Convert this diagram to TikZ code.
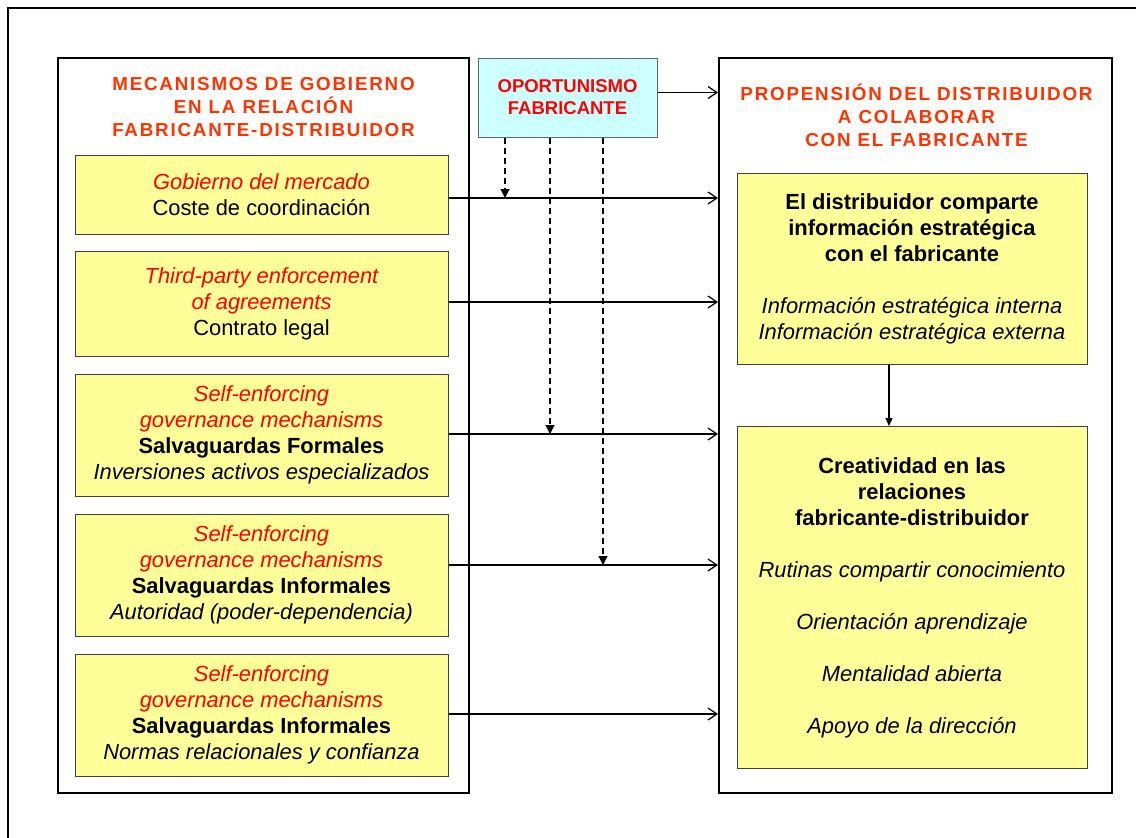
\documentclass[tikz,border=0pt]{standalone}
\usepackage{fontspec}
\setmainfont{Liberation Sans}
\newfontfamily\headfont[LetterSpace=9.5]{Liberation Sans}
\usetikzlibrary{arrows.meta,positioning}
\definecolor{boxyellow}{RGB}{255,255,153}
\definecolor{boxcyan}{RGB}{204,255,255}
\definecolor{headred}{RGB}{255,51,0}

\begin{document}
\begin{tikzpicture}[x=1pt,y=-1pt,
		frame/.style={draw, line width=2pt, inner sep=0pt},
		yellowbox/.style={draw=black!75, line width=1pt, fill=boxyellow, inner sep=0pt, align=center,
			font=\fontsize{21.9}{26}\selectfont},
		head/.style={align=center, text=headred, font=\headfont\bfseries\fontsize{18.8}{23}\selectfont},
		link/.style={line width=1.2pt, -{Straight Barb[length=9pt,width=12pt,line width=1.2pt]}},
		threat/.style={line width=1.2pt, dash pattern=on 6pt off 4pt, -{Triangle[length=9pt,width=9pt]}}]
		\useasboundingbox (0,0) rectangle (1136,838);
		\draw [line width=2pt] (8,838) -- (8,8) -- (1136,8);

		\draw (263.5,425.5) node [frame, minimum width=411pt, minimum height=735pt] (left) {};
		\draw (915.5,425.5) node [frame, minimum width=393pt, minimum height=735pt] (right) {};
		\draw (263.5,107) node [head] (lhead) {MECANISMOS DE GOBIERNO\\EN LA RELACIÓN\\FABRICANTE-DISTRIBUIDOR};
		\draw (916.5,115) node [head] (rhead) {PROPENSIÓN DEL DISTRIBUIDOR\\A COLABORAR\\CON EL FABRICANTE};

		\draw (567.5,97.5) node [draw=black!60, line width=1pt, fill=boxcyan, minimum width=179pt, minimum height=79pt,
			align=center, text=red, font=\bfseries\fontsize{18.5}{22}\selectfont] (op) {OPORTUNISMO\\FABRICANTE};

		\draw (261.5,194.5) node [yellowbox, minimum width=373pt, minimum height=79pt] (g1)
			{\textcolor{red}{\itshape Gobierno del mercado}\\Coste de coordinación};
		\draw (261.5,303.5) node [yellowbox, minimum width=373pt, minimum height=105pt] (g2)
			{\textcolor{red}{\itshape Third-party enforcement}\\\textcolor{red}{\itshape of agreements}\\Contrato legal};
		\draw (261.5,435) node [yellowbox, minimum width=373pt, minimum height=122pt] (g3)
			{\textcolor{red}{\itshape Self-enforcing}\\\textcolor{red}{\itshape governance mechanisms}\\\textbf{Salvaguardas Formales}\\\textit{Inversiones activos especializados}};
		\draw (261.5,575) node [yellowbox, minimum width=373pt, minimum height=122pt] (g4)
			{\textcolor{red}{\itshape Self-enforcing}\\\textcolor{red}{\itshape governance mechanisms}\\\textbf{Salvaguardas Informales}\\\textit{Autoridad (poder-dependencia)}};
		\draw (261.5,715) node [yellowbox, minimum width=373pt, minimum height=122pt] (g5)
			{\textcolor{red}{\itshape Self-enforcing}\\\textcolor{red}{\itshape governance mechanisms}\\\textbf{Salvaguardas Informales}\\\textit{Normas relacionales y confianza}};

		\draw (912,268.5) node [yellowbox, minimum width=350pt, minimum height=191pt] (share)
			{\textbf{El distribuidor comparte}\\\textbf{información estratégica}\\\textbf{con el fabricante}\\[26pt]
			\textit{Información estratégica interna}\\\textit{Información estratégica externa}};
		\draw (912,597.5) node [yellowbox, minimum width=350pt, minimum height=342pt] (creat)
			{\textbf{Creatividad en las}\\\textbf{relaciones}\\\textbf{fabricante-distribuidor}\\[26pt]
			\textit{Rutinas compartir conocimiento}\\[26pt]\textit{Orientación aprendizaje}\\[26pt]
			\textit{Mentalidad abierta}\\[26pt]\textit{Apoyo de la dirección}};

		\coordinate (m1) at (505,198);
		\coordinate (m3) at (550,434);
		\coordinate (m4) at (603,565);
		\coordinate (down) at (889,400);

		\draw
			([yshift=5pt]op.east) edge [link] ([yshift=5pt]op.east -| right.west)
			(g1.east |- m1) edge [link] (right.west |- m1)
			(g2.east |- 0,302) edge [link] (right.west |- 0,302)
			(g3.east |- m3) edge [link] (right.west |- m3)
			(g4.east |- m4) edge [link] (right.west |- m4)
			(g5.east |- 0,714) edge [link] (right.west |- 0,714)
			(op.south -| m1) edge [threat] (m1)
			(op.south -| m3) edge [threat] (m3)
			(op.south -| m4) edge [threat] (m4)
			(share.south -| down) edge [line width=1.2pt, -{Triangle[length=8pt,width=7pt]}] (creat.north -| down)
		;
	\end{tikzpicture}
\end{document}
